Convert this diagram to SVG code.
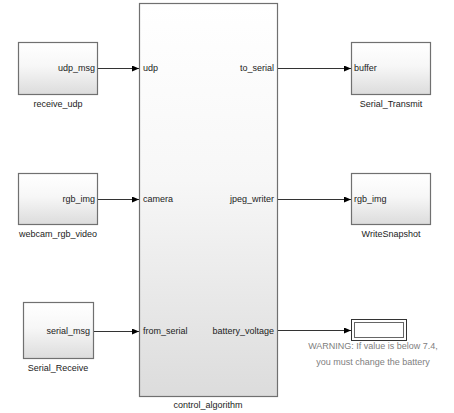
<svg xmlns="http://www.w3.org/2000/svg" width="454" height="413" viewBox="0 0 454 413">
<style>
text{font-family:"Liberation Sans",Arial,sans-serif;font-size:9px;fill:#222}
.blk{fill:url(#g);stroke:#707070;stroke-width:1.2}
.lbl{text-anchor:middle}
.pr{text-anchor:end}
.w{fill:#808080;text-anchor:middle}
.ln{stroke:#333;stroke-width:1;fill:none;marker-end:url(#a)}
</style>
<defs>
<linearGradient id="g" x1="0" y1="0" x2="0" y2="1"><stop offset="0" stop-color="#ffffff"/><stop offset="0.45" stop-color="#f7f7f7"/><stop offset="1" stop-color="#dcdcdc"/></linearGradient>
<marker id="a" markerWidth="8" markerHeight="6" refX="7" refY="3" orient="auto" markerUnits="userSpaceOnUse"><path d="M0,0 L7,3 L0,6 Z" fill="#000"/></marker>
</defs>
<g id="control_algorithm"><rect class="blk" x="139.5" y="3.5" width="138" height="393"/>
<text x="143" y="71">udp</text><text x="143" y="202">camera</text><text x="143" y="334">from_serial</text>
<text class="pr" x="274" y="71">to_serial</text><text class="pr" x="274" y="202">jpeg_writer</text><text class="pr" x="274" y="334">battery_voltage</text>
<text class="lbl" x="208" y="408">control_algorithm</text></g>
<g id="receive_udp"><rect class="blk" x="18.5" y="42.5" width="79" height="52"/><text class="pr" x="95" y="71">udp_msg</text><text class="lbl" x="58" y="107">receive_udp</text></g>
<g id="webcam_rgb_video"><rect class="blk" x="18.5" y="173.5" width="79" height="51"/><text class="pr" x="95" y="202">rgb_img</text><text class="lbl" x="58" y="237">webcam_rgb_video</text></g>
<g id="Serial_Receive"><rect class="blk" x="23.5" y="302.5" width="70" height="56"/><text class="pr" x="90" y="334">serial_msg</text><text class="lbl" x="58" y="371">Serial_Receive</text></g>
<g id="Serial_Transmit"><rect class="blk" x="351.5" y="42.5" width="79" height="52"/><text x="354" y="71">buffer</text><text class="lbl" x="391" y="107">Serial_Transmit</text></g>
<g id="WriteSnapshot"><rect class="blk" x="351.5" y="173.5" width="79" height="51"/><text x="354" y="202">rgb_img</text><text class="lbl" x="391" y="237">WriteSnapshot</text></g>
<g id="Display"><rect x="351.5" y="319.5" width="55" height="21" fill="#fff" stroke="#333"/><rect x="354.5" y="322.5" width="49" height="15" fill="#fff" stroke="#666"/>
<text class="w" x="373" y="349">WARNING: If value is below 7.4,</text><text class="w" x="373" y="365">you must change the battery</text></g>
<g id="connectors">
<path class="ln" d="M98,68.5 H139"/>
<path class="ln" d="M98,199.5 H139"/>
<path class="ln" d="M94,331.5 H139"/>
<path class="ln" d="M278,68.5 H351"/>
<path class="ln" d="M278,199.5 H351"/>
<path class="ln" d="M278,330.5 H351"/>
</g>
</svg>
